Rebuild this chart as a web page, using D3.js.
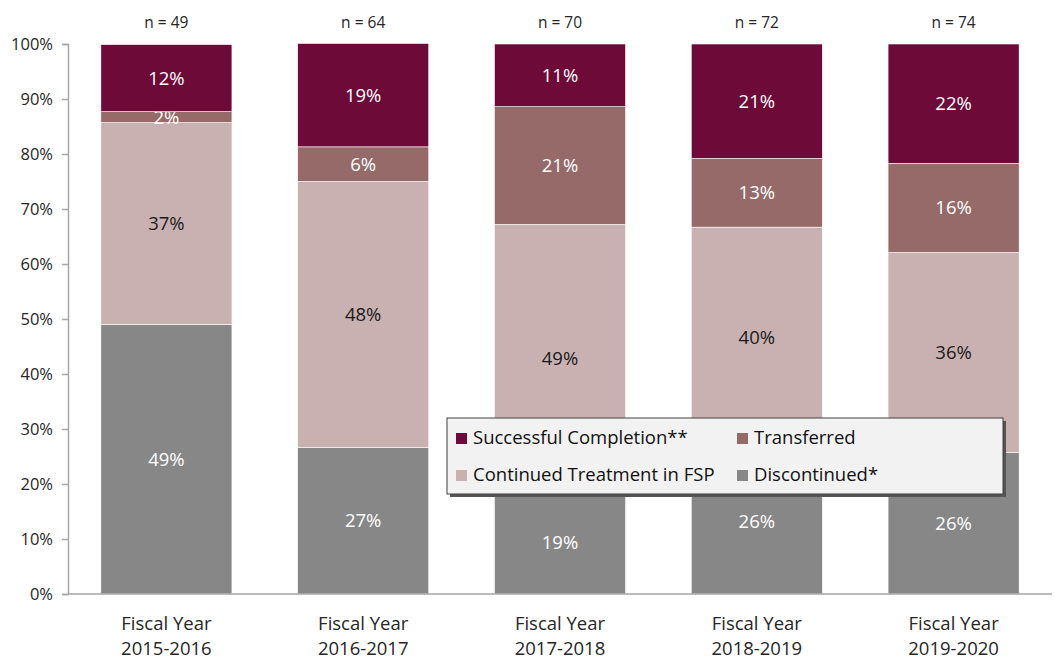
<!DOCTYPE html>
<html><head><meta charset="utf-8">
<script src="https://cdn.jsdelivr.net/npm/d3@7"></script>
<style>body{margin:0;background:#fff;} text{font-family:"Open Sans","Noto Sans",sans-serif;}</style>
</head><body><svg id="c" width="1055" height="660"></svg>
<script>
const categories = ["Fiscal Year|2015-2016","Fiscal Year|2016-2017","Fiscal Year|2017-2018","Fiscal Year|2018-2019","Fiscal Year|2019-2020"];
const nLabels = ["n = 49","n = 64","n = 70","n = 72","n = 74"];
const seriesNames = ["Discontinued*","Continued Treatment in FSP","Transferred","Successful Completion**"];
const discontinued = [49.0, 26.6, 18.6, 26.4, 25.7];
const continued = [36.7, 48.4, 48.6, 40.3, 36.4];
const transferred = [2.0, 6.3, 21.4, 12.5, 16.2];
const successful = [12.2, 18.8, 11.4, 20.8, 21.7];
const yTicks = [0,10,20,30,40,50,60,70,80,90,100];
const colors = ["#878787","#c9b1b2","#956a69","#6d0a38"];
const labelColors = ["#ffffff","#1a1a1a","#ffffff","#ffffff"];

const svg = d3.select("#c");
const m = {l:68, r:1052, t:44, b:594};
const x = d3.scaleBand().domain(categories).range([m.l, m.r]).paddingInner(0.334).paddingOuter(0.167);
const y = d3.scaleLinear().domain([0,100]).range([m.b, m.t]);

const seriesVals = [discontinued, continued, transferred, successful];
const rows = categories.map((c,i)=>{const o={cat:c}; seriesNames.forEach((s,j)=>o[s]=seriesVals[j][i]); return o;});
const stack = d3.stack().keys(seriesNames)(rows);

// y axis
const yAxis = d3.axisLeft(y).tickValues(yTicks).tickFormat(d=>d+"%").tickSize(6).tickPadding(9);
const ga = svg.append("g").attr("transform",`translate(${m.l},0)`).call(yAxis);
ga.select(".domain").attr("stroke","#a6a6a6").attr("stroke-width",1.5);
ga.selectAll(".tick line").attr("stroke","#a6a6a6").attr("stroke-width",1.5);
ga.selectAll(".tick text").attr("fill","#262626").style("font-size","16.5px").style("font-family","'Open Sans',sans-serif");

// bars
stack.forEach((layer,j)=>{
  const key = seriesNames[j];
  const g = svg.append("g");
  g.selectAll("rect").data(layer).enter().append("rect")
    .attr("x",d=>x(d.data.cat)).attr("width",x.bandwidth())
    .attr("y",d=>y(d[1])).attr("height",d=>y(d[0])-y(d[1]))
    .attr("fill",colors[j]).attr("stroke","#ffffff").attr("stroke-width",0.6);
  g.selectAll("text").data(layer).enter().append("text")
    .attr("x",d=>x(d.data.cat)+x.bandwidth()/2)
    .attr("y",d=>(y(d[0])+y(d[1]))/2)
    .attr("dy","0.35em").attr("text-anchor","middle")
    .attr("fill",labelColors[j]).style("font-size","18.5px")
    .text(d=>Math.round(d.data[key])+"%");
});

// x axis line
svg.append("line").attr("x1",m.l).attr("x2",m.r).attr("y1",m.b).attr("y2",m.b)
  .attr("stroke","#a6a6a6").attr("stroke-width",1.5);

// x labels
categories.forEach(c=>{
  const parts = c.split("|");
  const t = svg.append("text").attr("text-anchor","middle").attr("fill","#262626").style("font-size","18.5px");
  t.append("tspan").attr("x",x(c)+x.bandwidth()/2).attr("y",630).text(parts[0]);
  t.append("tspan").attr("x",x(c)+x.bandwidth()/2).attr("y",655).text(parts[1]);
});
// n labels
categories.forEach((c,i)=>{
  svg.append("text").attr("x",x(c)+x.bandwidth()/2).attr("y",28).attr("text-anchor","middle")
    .attr("fill","#262626").style("font-size","15.5px").text(nLabels[i]);
});

// legend
const lg = svg.append("g");
lg.append("rect").attr("x",450).attr("y",421).attr("width",556).attr("height",76).attr("fill","#555");
lg.append("rect").attr("x",447).attr("y",418).attr("width",556).attr("height",76)
  .attr("fill","#f2f2f2").attr("stroke","#404040").attr("stroke-width",1);
const legItems = [
  {name:seriesNames[3], c:colors[3], x:456, y:438},
  {name:seriesNames[2], c:colors[2], x:737, y:438},
  {name:seriesNames[1], c:colors[1], x:456, y:475},
  {name:seriesNames[0], c:colors[0], x:737, y:475}
];
legItems.forEach(d=>{
  lg.append("rect").attr("x",d.x).attr("y",d.y-5).attr("width",11).attr("height",11).attr("fill",d.c);
  lg.append("text").attr("x",d.x+17).attr("y",d.y).attr("dy","0.35em").attr("fill","#111")
    .style("font-size","18.5px").text(d.name);
});
</script></body></html>
